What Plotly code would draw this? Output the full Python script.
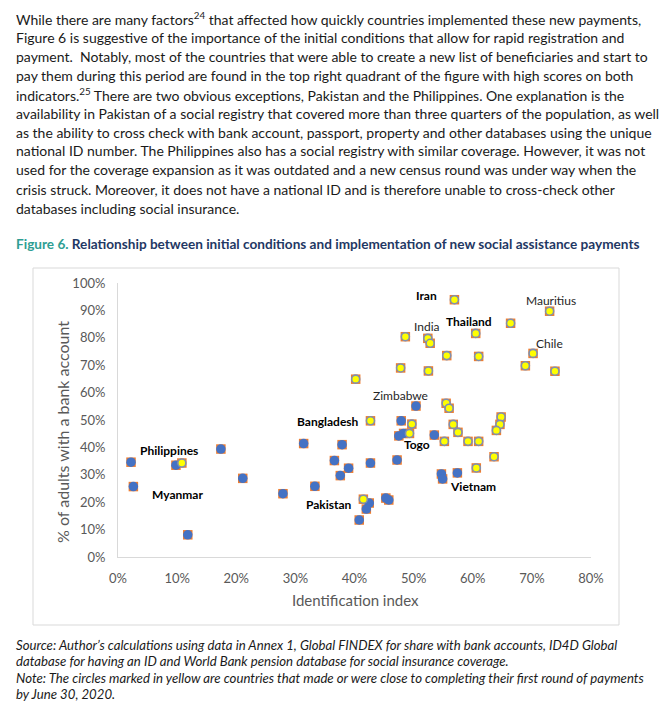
import plotly.graph_objects as go

# ---------------- data (percent) ----------------
blue_x = [2.2, 2.6, 9.8, 17.4, 21.1, 11.8, 27.9, 31.4, 33.3, 36.6, 37.9, 37.6, 39.0,
          50.4, 47.9, 48.3, 47.5, 53.5, 42.7, 47.2, 54.7, 54.9, 57.4, 42.5, 42.0,
          45.3, 45.8, 40.8]
blue_y = [34.6, 25.7, 33.5, 39.4, 28.7, 8.1, 23.1, 41.4, 25.8, 35.2, 41.0, 29.7, 32.4,
          55.1, 49.7, 45.1, 44.2, 44.5, 34.3, 35.4, 30.3, 28.5, 30.7, 19.7, 17.5,
          21.5, 20.8, 13.5]

yellow_x = [10.8, 42.7, 49.7, 55.5, 56.0, 56.7, 57.5, 49.3, 55.2, 59.2, 61.0, 60.6,
            41.5, 56.9, 48.6, 52.4, 52.8, 60.5, 55.6, 61.0, 47.8, 52.5, 40.2, 73.0,
            66.4, 70.2, 68.9, 73.9, 64.8, 64.6, 64.0, 63.6]
yellow_y = [34.3, 49.7, 48.5, 56.1, 54.3, 48.4, 45.5, 45.1, 42.2, 42.2, 42.2, 32.5,
            21.1, 93.9, 80.4, 79.8, 78.0, 81.6, 73.5, 73.2, 69.0, 67.9, 64.9, 89.7,
            85.3, 74.3, 69.8, 67.8, 51.1, 48.4, 46.2, 36.6]

label_names = ["Iran", "India", "Thailand", "Mauritius", "Chile", "Zimbabwe",
               "Bangladesh", "Togo", "Vietnam", "Philippines", "Myanmar", "Pakistan"]
label_x = [52.2, 52.2, 59.3, 73.3, 72.9, 47.8, 35.6, 50.5, 60.1, 8.6, 10.1, 35.7]
label_y = [95.4, 84.1, 86.1, 93.5, 78.0, 58.8, 49.3, 41.0, 25.9, 39.0, 22.9, 19.3]
label_bold = [True, False, True, False, False, False, True, True, True, True, True, True]

x_ticks = [0, 10, 20, 30, 40, 50, 60, 70, 80]
y_ticks = [0, 10, 20, 30, 40, 50, 60, 70, 80, 90, 100]

paragraph = [
    "While there are many factors<sup>24</sup> that affected how quickly countries implemented these new payments,",
    "Figure 6 is suggestive of the importance of the initial conditions that allow for rapid registration and",
    "payment.  Notably, most of the countries that were able to create a new list of beneficiaries and start to",
    "pay them during this period are found in the top right quadrant of the figure with high scores on both",
    "indicators.<sup>25</sup> There are two obvious exceptions, Pakistan and the Philippines. One explanation is the",
    "availability in Pakistan of a social registry that covered more than three quarters of the population, as well",
    "as the ability to cross check with bank account, passport, property and other databases using the unique",
    "national ID number. The Philippines also has a social registry with similar coverage. However, it was not",
    "used for the coverage expansion as it was outdated and a new census round was under way when the",
    "crisis struck. Moreover, it does not have a national ID and is therefore unable to cross-check other",
    "databases including social insurance.",
]
notes = [
    "Source: Author\u2019s calculations using data in Annex 1, Global FINDEX for share with bank accounts, ID4D Global",
    "database for having an ID and World Bank pension database for social insurance coverage.",
    "Note: The circles marked in yellow are countries that made or were close to completing their first round of payments",
    "by June 30, 2020.",
]

# ---------------- layout helpers (pixel -> paper) ----------------
W, H = 664, 716
L, R, T, B = 118, 591, 283, 557
PW, PH = R - L, B - T


def px(x):
    return (x - L) / PW


def py(y):
    return (B - y) / PH


FONT = "Lato"
fig = go.Figure()

all_x = [v / 100 for v in blue_x + yellow_x]
all_y = [v / 100 for v in blue_y + yellow_y]
fig.add_trace(go.Scatter(x=all_x, y=all_y, mode="markers",
                         marker=dict(symbol="square", size=9.5, color="#ED7D31",
                                     line=dict(width=0)),
                         hoverinfo="skip", showlegend=False))
fig.add_trace(go.Scatter(x=[v / 100 for v in blue_x], y=[v / 100 for v in blue_y],
                         mode="markers",
                         marker=dict(symbol="circle", size=9.5, color="#4472C4",
                                     line=dict(width=0)),
                         showlegend=False))
fig.add_trace(go.Scatter(x=[v / 100 for v in yellow_x], y=[v / 100 for v in yellow_y],
                         mode="markers",
                         marker=dict(symbol="circle", size=8, color="#FFFF00",
                                     line=dict(width=1.6, color="#7F8FB0")),
                         showlegend=False))

annotations = []
for name, lx, ly, bold in zip(label_names, label_x, label_y, label_bold):
    annotations.append(dict(
        x=lx / 100, y=ly / 100, xref="x", yref="y", showarrow=False,
        text=f"<b>{name}</b>" if bold else name,
        font=dict(family=FONT, size=12, color="#000000" if bold else "#262626"),
        xanchor="center", yanchor="middle"))

# paragraph
for i, line in enumerate(paragraph):
    annotations.append(dict(
        x=px(14), y=py(18 + 19 * i), xref="paper", yref="paper", showarrow=False,
        text=line, xanchor="left", yanchor="middle",
        font=dict(family=FONT, size=14, color="#1A1A1A")))

# figure title
annotations.append(dict(
    x=px(14), y=py(244), xref="paper", yref="paper", showarrow=False,
    text="<b><span style='color:#2E9E93'>Figure 6.</span> Relationship between initial conditions and implementation of new social assistance payments</b>",
    xanchor="left", yanchor="middle",
    font=dict(family=FONT, size=13.6, color="#1F3864")))

# notes
for i, line in enumerate(notes):
    annotations.append(dict(
        x=px(14), y=py(645 + 16.3 * i), xref="paper", yref="paper", showarrow=False,
        text=f"<i>{line}</i>", xanchor="left", yanchor="middle",
        font=dict(family=FONT, size=13.2, color="#1A1A1A")))

# axis titles
annotations.append(dict(
    x=px(355), y=py(600), xref="paper", yref="paper", showarrow=False,
    text="Identification index", xanchor="center", yanchor="middle",
    font=dict(family=FONT, size=15, color="#595959")))
annotations.append(dict(
    x=px(62), y=py(432), xref="paper", yref="paper", showarrow=False,
    text="% of adults with a bank account", textangle=-90,
    xanchor="center", yanchor="middle",
    font=dict(family=FONT, size=16, color="#595959")))

shapes = [dict(type="rect", xref="paper", yref="paper",
               x0=px(33), x1=px(619), y0=py(625), y1=py(268),
               line=dict(color="#D9D9D9", width=1), fillcolor="rgba(0,0,0,0)",
               layer="below")]

fig.update_layout(
    width=W, height=H,
    margin=dict(l=L, r=W - R, t=T, b=H - B, pad=0),
    paper_bgcolor="white", plot_bgcolor="white",
    showlegend=False,
    annotations=annotations, shapes=shapes,
    xaxis=dict(range=[0, 0.8], tickvals=[v / 100 for v in x_ticks],
               ticktext=[f"{v}%" for v in x_ticks],
               showgrid=False, zeroline=False, showline=True,
               linecolor="#D9D9D9", linewidth=1,
               ticks="outside", ticklen=9, tickcolor="rgba(0,0,0,0)",
               tickfont=dict(family=FONT, size=13, color="#595959"),
               fixedrange=True),
    yaxis=dict(range=[0, 1], tickvals=[v / 100 for v in y_ticks],
               ticktext=[f"{v}%" for v in y_ticks],
               showgrid=False, zeroline=False, showline=True,
               linecolor="#D9D9D9", linewidth=1,
               ticks="outside", ticklen=9, tickcolor="rgba(0,0,0,0)",
               tickfont=dict(family=FONT, size=13, color="#595959"),
               fixedrange=True),
)

fig.write_html("out.html",
               config={"displayModeBar": False},
               post_script="document.body.style.margin='0';document.body.style.padding='0';")
